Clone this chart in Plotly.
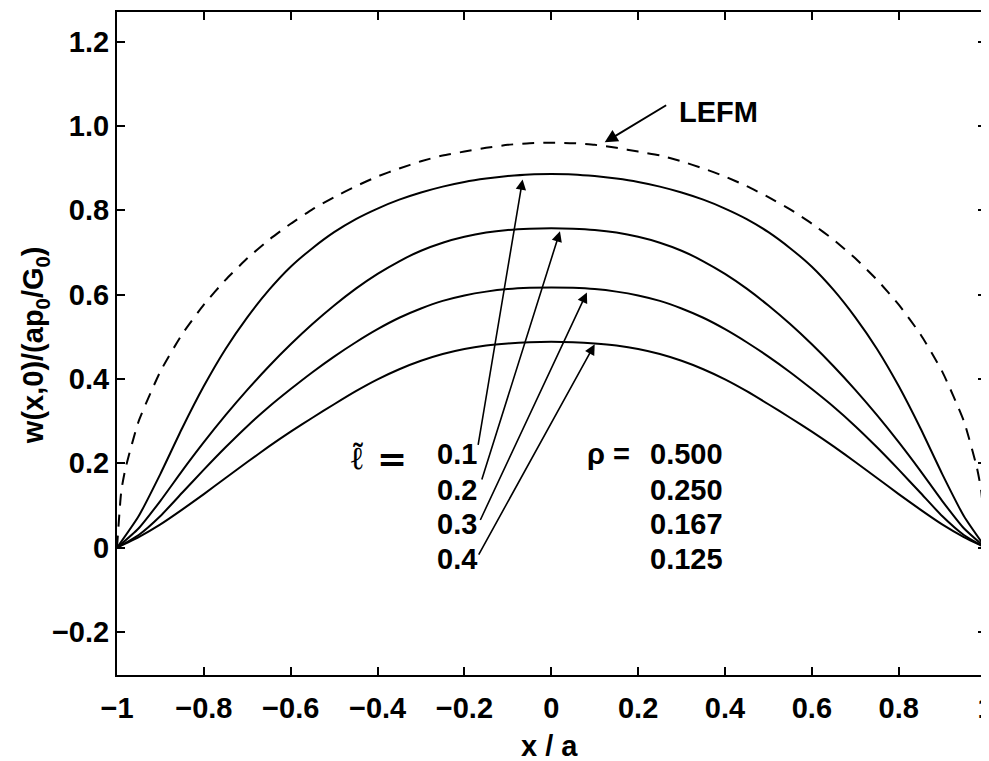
import plotly.graph_objects as go

# ---- data ----
x_vals = [-1, -0.95, -0.9, -0.85, -0.8, -0.75, -0.7, -0.65, -0.6, -0.55, -0.5, -0.45, -0.4, -0.35,
          -0.3, -0.25, -0.2, -0.15, -0.1, -0.05, 0, 0.05, 0.1, 0.15, 0.2, 0.25, 0.3, 0.35, 0.4,
          0.45, 0.5, 0.55, 0.6, 0.65, 0.7, 0.75, 0.8, 0.85, 0.9, 0.95, 1]
w_l01 = [0, 0.075, 0.175, 0.283, 0.383, 0.471, 0.546, 0.611, 0.666, 0.710, 0.748, 0.779, 0.804, 0.825,
         0.842, 0.856, 0.867, 0.875, 0.881, 0.885, 0.886, 0.885, 0.881, 0.875, 0.867, 0.856, 0.842, 0.825,
         0.804, 0.779, 0.748, 0.710, 0.666, 0.611, 0.546, 0.471, 0.383, 0.283, 0.175, 0.075, 0]
w_l02 = [0, 0.046, 0.111, 0.182, 0.250, 0.314, 0.374, 0.430, 0.482, 0.530, 0.574, 0.614, 0.649, 0.679,
         0.704, 0.723, 0.737, 0.747, 0.753, 0.756, 0.757, 0.756, 0.753, 0.747, 0.737, 0.723, 0.704, 0.679,
         0.649, 0.614, 0.574, 0.530, 0.482, 0.430, 0.374, 0.314, 0.250, 0.182, 0.111, 0.046, 0]
w_l03 = [0, 0.030, 0.075, 0.130, 0.185, 0.238, 0.288, 0.334, 0.376, 0.416, 0.453, 0.487, 0.518, 0.545,
         0.567, 0.585, 0.598, 0.607, 0.613, 0.616, 0.617, 0.616, 0.613, 0.607, 0.598, 0.585, 0.567, 0.545,
         0.518, 0.487, 0.453, 0.416, 0.376, 0.334, 0.288, 0.238, 0.185, 0.130, 0.075, 0.030, 0]
w_l04 = [0, 0.025, 0.055, 0.090, 0.127, 0.165, 0.203, 0.240, 0.275, 0.308, 0.340, 0.371, 0.399, 0.423,
         0.443, 0.459, 0.471, 0.479, 0.484, 0.487, 0.488, 0.487, 0.484, 0.479, 0.471, 0.459, 0.443, 0.423,
         0.399, 0.371, 0.340, 0.308, 0.275, 0.240, 0.203, 0.165, 0.127, 0.090, 0.055, 0.025, 0]

x_lefm = [-1, -0.99, -0.98, -0.95, -0.9, -0.85, -0.8, -0.75, -0.7, -0.65, -0.6, -0.55, -0.5, -0.45, -0.4,
          -0.35, -0.3, -0.25, -0.2, -0.15, -0.1, -0.05, 0, 0.05, 0.1, 0.15, 0.2, 0.25, 0.3, 0.35, 0.4,
          0.45, 0.5, 0.55, 0.6, 0.65, 0.7, 0.75, 0.8, 0.85, 0.9, 0.95, 0.98, 0.99, 1]
w_lefm = [0, 0.135, 0.190, 0.300, 0.418, 0.506, 0.576, 0.635, 0.686, 0.730, 0.768, 0.802, 0.831, 0.857, 0.880,
          0.899, 0.916, 0.930, 0.939, 0.948, 0.955, 0.959, 0.960, 0.959, 0.955, 0.948, 0.939, 0.930, 0.916,
          0.899, 0.880, 0.857, 0.831, 0.802, 0.768, 0.730, 0.686, 0.635, 0.576, 0.506, 0.418, 0.300, 0.190,
          0.135, 0]

l_labels = ["0.1", "0.2", "0.3", "0.4"]
rho_labels = ["0.500", "0.250", "0.167", "0.125"]
label_y = [0.221, 0.137, 0.055, -0.027]
# arrow tails (at labels) and tips (at curves)
arrow_tail_x = [-0.169, -0.161, -0.165, -0.169]
arrow_tail_y = [0.240, 0.158, 0.062, -0.020]
arrow_tip_x = [-0.066, 0.020, 0.082, 0.100]
arrow_tip_y = [0.873, 0.750, 0.605, 0.482]

x_tickvals = [-1, -0.8, -0.6, -0.4, -0.2, 0, 0.2, 0.4, 0.6, 0.8, 1]
x_ticktext = ["\u22121", "\u22120.8", "\u22120.6", "\u22120.4", "\u22120.2", "0", "0.2", "0.4", "0.6", "0.8", "1"]
y_tickvals = [-0.2, 0, 0.2, 0.4, 0.6, 0.8, 1.0, 1.2]
y_ticktext = ["\u22120.2", "0", "0.2", "0.4", "0.6", "0.8", "1.0", "1.2"]

FONT = "Liberation Sans"
FS = 29
bold = dict(family=FONT, size=FS, color="black", weight="bold")

fig = go.Figure()
for w in [w_l01, w_l02, w_l03, w_l04]:
    fig.add_trace(go.Scatter(x=x_vals, y=w, mode="lines",
                             line=dict(color="black", width=2, shape="spline", smoothing=0.6),
                             showlegend=False, hoverinfo="skip"))
fig.add_trace(go.Scatter(x=x_lefm, y=w_lefm, mode="lines",
                         line=dict(color="black", width=2, dash="12px,9px", shape="spline", smoothing=0.5),
                         showlegend=False, hoverinfo="skip"))

ann = []
# LEFM
ann.append(dict(x=0.123, y=0.961, ax=0.268, ay=1.051, xref="x", yref="y", axref="x", ayref="y",
                text="", showarrow=True, arrowhead=2, arrowsize=1.3, arrowwidth=2, arrowcolor="black"))
ann.append(dict(x=0.385, y=1.034, xref="x", yref="y", text="LEFM", showarrow=False,
                font=bold, xanchor="center", yanchor="middle"))
for i in range(4):
    ann.append(dict(x=arrow_tip_x[i], y=arrow_tip_y[i], ax=arrow_tail_x[i], ay=arrow_tail_y[i],
                    xref="x", yref="y", axref="x", ayref="y", text="", showarrow=True,
                    arrowhead=2, arrowsize=1.3, arrowwidth=1.6, arrowcolor="black"))
    ann.append(dict(x=-0.268, y=label_y[i], xref="x", yref="y", text=l_labels[i], showarrow=False,
                    font=bold, xanchor="left", yanchor="middle"))
    ann.append(dict(x=0.223, y=label_y[i], xref="x", yref="y", text=rho_labels[i], showarrow=False,
                    font=bold, xanchor="left", yanchor="middle"))
ann.append(dict(x=0.187, y=label_y[0], xref="x", yref="y", text="\u03c1 =", showarrow=False,
                font=bold, xanchor="right", yanchor="middle"))
# l-tilde =
ann.append(dict(x=-0.448, y=0.213, xref="x", yref="y", text="\u2113", showarrow=False,
                font=dict(family="DejaVu Serif", size=32, color="black"),
                xanchor="center", yanchor="middle"))
ann.append(dict(x=-0.446, y=0.218, xref="x", yref="y", text="\u02dc", showarrow=False,
                font=dict(family="DejaVu Serif", size=28, color="black"),
                xanchor="center", yanchor="middle"))
ann.append(dict(x=-0.366, y=0.213, xref="x", yref="y", text="=", showarrow=False,
                font=dict(family="DejaVu Serif", size=36, color="black"),
                xanchor="center", yanchor="middle"))
# axis titles
ann.append(dict(x=0.498, y=-0.107, xref="paper", yref="paper", text="x / a", showarrow=False,
                font=bold, xanchor="center", yanchor="middle"))
ann.append(dict(x=-0.094, y=0.498, xref="paper", yref="paper",
                text="w(x,0)/(ap<sub>0</sub>/G<sub>0</sub>)", showarrow=False, textangle=-90,
                font=bold, xanchor="center", yanchor="middle"))

# the page body has an 8px margin, so the figure is sized/margined to land the
# plot area at the reference's pixel positions
fig.update_layout(
    width=981, height=753,
    margin=dict(l=109, r=3, t=4, b=86),
    paper_bgcolor="white", plot_bgcolor="white",
    annotations=ann,
    font=bold,
)
fig.update_xaxes(range=[-1, 1.001], tickvals=x_tickvals, ticktext=x_ticktext, automargin=False,
                 ticks="inside", ticklen=8, tickwidth=1.5, tickcolor="black",
                 showline=True, linecolor="black", linewidth=2, mirror="ticks",
                 showgrid=False, zeroline=False, ticklabelstandoff=6, ticklabeloverflow="allow",
                 tickfont=bold)
fig.update_yaxes(range=[-0.302, 1.27], tickvals=y_tickvals, ticktext=y_ticktext, automargin=False,
                 ticks="inside", ticklen=8, tickwidth=1.5, tickcolor="black",
                 showline=True, linecolor="black", linewidth=2, mirror="ticks",
                 showgrid=False, zeroline=False, ticklabeloverflow="allow",
                 tickfont=bold)

fig.write_html("out.html")
